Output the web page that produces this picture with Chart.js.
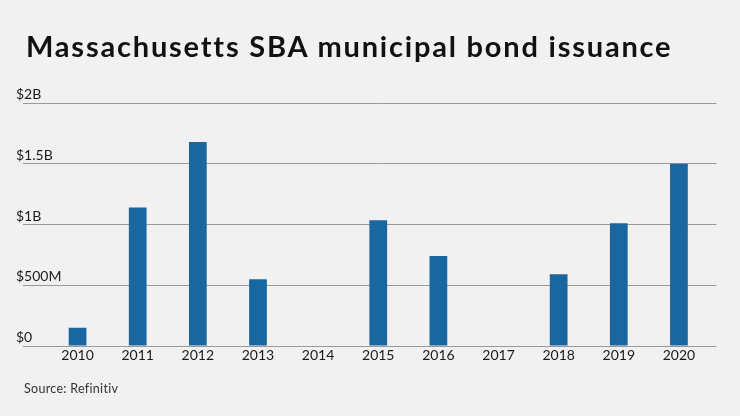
<!DOCTYPE html>
<html>
<head>
<meta charset="utf-8">
<script src="https://cdn.jsdelivr.net/npm/chart.js@4.4.1/dist/chart.umd.min.js"></script>
<style>
    html, body {
        margin: 0;
        padding: 0;
        background: #f0f1f0;
    }
    #wrap {
        position: relative;
        width: 740px;
        height: 416px;
        overflow: hidden;
        font-family: Lato, "Open Sans", sans-serif;
    }
    #title {
        position: absolute;
        left: 26px;
        top: 28px;
        font-size: 29px;
        font-weight: bold;
        color: #111;
        white-space: nowrap;
        letter-spacing: 1.8px;
    }
    #source {
        position: absolute;
        left: 24px;
        top: 381px;
        font-size: 12.5px;
        letter-spacing: 0.3px;
        color: #333;
    }
    canvas {
        position: absolute;
        left: 0;
        top: 0;
    }
</style>
</head>
<body>
<div id="wrap">
    <canvas id="bondChart" width="740" height="416"></canvas>
    <div id="title">Massachusetts SBA municipal bond issuance</div>
    <div id="source">Source: Refinitiv</div>
</div>
<script>
// issuance per year, in billions of dollars
const years = ['2010', '2011', '2012', '2013', '2014', '2015', '2016', '2017', '2018', '2019', '2020'];
const issuance = [0.15, 1.14, 1.68, 0.55, 0, 1.035, 0.74, 0, 0.59, 1.01, 1.5];
const tickValues = [0, 0.5, 1, 1.5, 2];
const tickLabels = ['$0', '$500M', '$1B', '$1.5B', '$2B'];

const gridColor = '#9a9a9a';
const textColor = '#1a1a1a';

const ctx = document.getElementById('bondChart').getContext('2d');

const bondChart = new Chart(ctx, {
    type: 'bar',
    data: {
        labels: years,
        datasets: [{
            label: 'Issuance',
            data: issuance,
            backgroundColor: '#1a67a0',
            borderWidth: 0,
            barPercentage: 0.295,
            categoryPercentage: 1
        }]
    },
    options: {
        responsive: false,
        animation: false,
        layout: {
            padding: { top: 103, left: 16, right: 23.5, bottom: 50 }
        },
        plugins: {
            legend: { display: false },
            tooltip: { enabled: false }
        },
        scales: {
            x: {
                grid: { display: false, drawTicks: false },
                border: { display: false },
                ticks: {
                    color: textColor,
                    padding: 1,
                    font: { family: 'Lato', size: 14 }
                },
                afterFit: function (scale) {
                    scale.height = 20;
                }
            },
            y: {
                min: 0,
                max: 2,
                afterBuildTicks: function (scale) {
                    scale.ticks = tickValues.map(v => ({ value: v }));
                },
                grid: {
                    color: gridColor,
                    lineWidth: 1,
                    tickLength: 24.5
                },
                border: { display: false },
                ticks: {
                    mirror: true,
                    padding: -31.5,
                    labelOffset: -8.5,
                    color: textColor,
                    font: { family: 'Lato', size: 14 },
                    callback: function (value, index) {
                        return tickLabels[index];
                    }
                },
                afterFit: function (scale) {
                    scale.width = 31.5;
                }
            },
            y2: {
                position: 'right',
                min: 0,
                max: 2,
                afterBuildTicks: function (scale) {
                    scale.ticks = tickValues.map(v => ({ value: v }));
                },
                grid: {
                    color: gridColor,
                    lineWidth: 1,
                    tickLength: 7.5,
                    drawOnChartArea: false
                },
                border: { display: false },
                ticks: { display: false },
                afterFit: function (scale) {
                    scale.width = 7.5;
                }
            }
        }
    }
});
</script>
</body>
</html>
